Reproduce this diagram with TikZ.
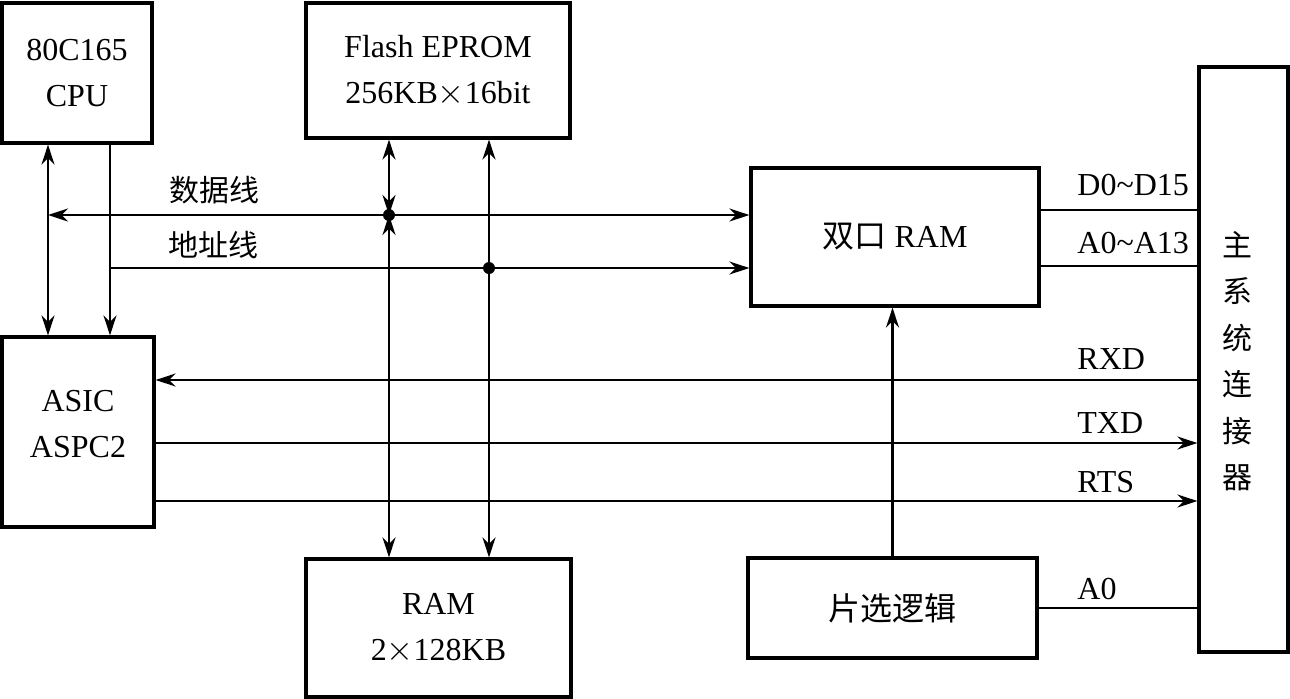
\documentclass[tikz,border=0pt]{standalone}
\usepackage{fontspec}
\setmainfont{Liberation Serif}
\newfontfamily\cjk{Noto Sans CJK SC}
\usetikzlibrary{arrows.meta}
\tikzset{every path/.style={line width=1.4pt}, >={Stealth[length=10pt,width=6.5pt]},
   block/.style={draw, line width=1.6pt, inner sep=0pt, align=center, font=\fontsize{16}{23}\selectfont},
   txt/.style={inner sep=0pt, align=center, font=\fontsize{16}{23}\selectfont},
   sig/.style={anchor=base west, inner sep=0pt, font=\fontsize{16}{19}\selectfont},
   bus/.style={anchor=west, inner sep=0pt, font=\cjk\fontsize{15}{18}\selectfont}}

\begin{document}
\begin{tikzpicture}[x=0.5pt,y=-0.5pt]
   \useasboundingbox (0,0) rectangle (1290,698);
   \node[block, minimum width=75pt, minimum height=70pt] (cpu) at (77,73) {80C165\\CPU};
   \node[block, minimum width=132pt, minimum height=67.5pt] (flash) at (438,70.5) {Flash EPROM\\256KB$\times$16bit};
   \node[block, minimum width=144pt, minimum height=69pt] (dpram) at (895,237) {{\cjk 双口} RAM};
   \node[block, minimum width=76pt, minimum height=95pt] (asic) at (78,432) {};
   \node[txt] (asict) at (78,424) {ASIC\\ASPC2};
   \node[block, minimum width=132.5pt, minimum height=69pt] (ram) at (438.5,628) {RAM\\2$\times$128KB};
   \node[block, minimum width=144.5pt, minimum height=50pt] (cs) at (892.5,608) {\cjk 片选逻辑};
   \node[block, minimum width=44.5pt, minimum height=292.5pt] (conn) at (1243.5,359.5) {};
   \node[txt, font=\cjk\fontsize{15}{23.25}\selectfont] (connt) at (1237,361) {主\\系\\统\\连\\接\\器};

   \coordinate (dx) at (48,215);
   \coordinate (ax) at (110,268);
   \coordinate (dj) at (389,215);
   \coordinate (aj) at (489,268);
   \coordinate (yd) at (0,210);
   \coordinate (ya) at (0,266);
   \coordinate (yr) at (0,380);
   \coordinate (yt) at (0,443);
   \coordinate (ys) at (0,501);

   \node[bus] (ldata) at (168,190) {数据线};
   \node[bus] (laddr) at (167,245) {地址线};

   \draw[<->] (cpu.south -| dx) -- (asic.north -| dx);
   \draw[->] (cpu.south -| ax) -- (asic.north -| ax);
   \draw[<->] (dx) -- (dpram.west |- dx);
   \draw[->] (ax) -- (dpram.west |- ax);
   \draw[<->] (flash.south -| dj) -- (dj);
   \draw[<->] (ram.north -| dj) -- (dj);
   \draw[<->] (flash.south -| aj) -- (ram.north -| aj);
   \fill (dj) circle (3pt);
   \fill (aj) circle (3pt);

   \draw (dpram.east |- yd) -- (conn.west |- yd);
   \draw (dpram.east |- ya) -- (conn.west |- ya);
   \draw[->] (conn.west |- yr) -- (asic.east |- yr);
   \draw[->] (asic.east |- yt) -- (conn.west |- yt);
   \draw[->] (asic.east |- ys) -- (conn.west |- ys);
   \draw[->] (cs.north) -- (dpram.south -| cs.north);
   \draw (cs.east) -- (conn.west |- cs.east);

   \node[sig] (ld) at (1076,195) {D0\textasciitilde D15};
   \node[sig] (la) at (1076,253) {A0\textasciitilde A13};
   \node[sig] (lr) at (1076,369) {RXD};
   \node[sig] (lt) at (1076,433) {TXD};
   \node[sig] (ls) at (1076,492) {RTS};
   \node[sig] (l0) at (1076,599) {A0};
\end{tikzpicture}
\end{document}
